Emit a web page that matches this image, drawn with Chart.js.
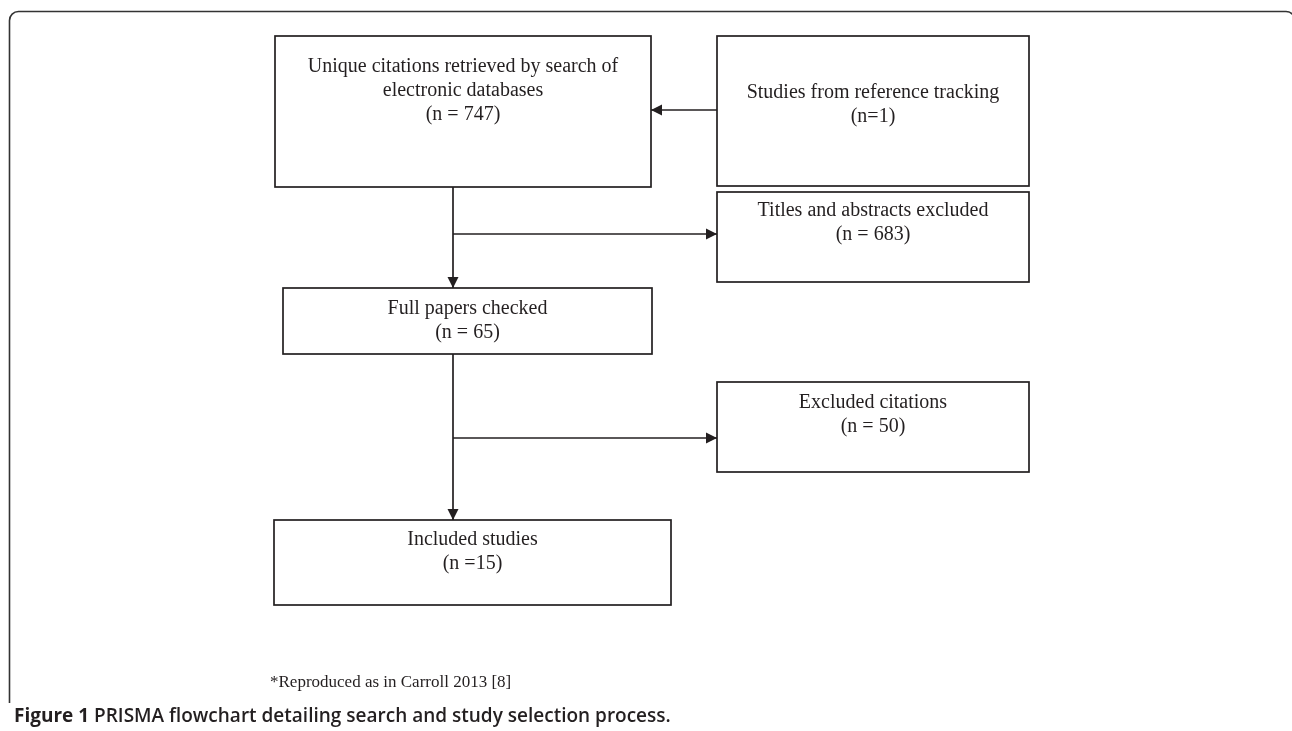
<!DOCTYPE html>
<html>
<head>
<meta charset="utf-8">
<script src="https://cdn.jsdelivr.net/npm/chart.js@4.4.1/dist/chart.umd.min.js"></script>
<style>
  html, body { margin: 0; padding: 0; background: #fff; }
  #wrap { width: 1292px; height: 731px; }
</style>
</head>
<body>
<div id="wrap"><canvas id="flow" width="1292" height="731"></canvas></div>
<script>
// PRISMA stages (text + counts)
const stageNames = [
  ["Unique citations retrieved by search of", "electronic databases"],
  ["Studies from reference tracking"],
  ["Titles and abstracts excluded"],
  ["Full papers checked"],
  ["Excluded citations"],
  ["Included studies"]
];
const countLabels = ["(n = 747)", "(n=1)", "(n = 683)", "(n = 65)", "(n = 50)", "(n =15)"];
const footnote = "*Reproduced as in Carroll 2013 [8]";
const captionBold = "Figure 1";
const captionRest = " PRISMA flowchart detailing search and study selection process.";

// layout, in axis units (axes run 0..1292 / 0..731)
const boxLeft   = [275, 717, 717, 283, 717, 274];
const boxRight  = [651, 1029, 1029, 652, 1029, 671];
const boxTop    = [36, 36, 192, 288, 382, 520];
const boxBottom = [187, 186, 282, 354, 472, 605];
const firstLine = [67, 93, 211, 309, 403, 540];
const lineGap = 24;

// connectors: [x0, y0, x1, y1]; every one ends in an arrowhead
const links = [
  [717, 110, 651, 110],
  [453, 187, 453, 288],
  [453, 234, 717, 234],
  [453, 354, 453, 520],
  [453, 438, 717, 438]
];

const ink = "#231f20";

const flowPlugin = {
  id: "flow",
  afterDraw(chart) {
    const ctx = chart.ctx;
    const x = chart.scales.x, y = chart.scales.y;
    const px = v => x.getPixelForValue(v);
    const py = v => y.getPixelForValue(v);

    ctx.save();
    ctx.strokeStyle = "#333";
    ctx.lineWidth = 1.6;

    // outer frame: right side runs off the page, left side stops above caption
    const fl = px(9.5), ft = py(11.5), fr = px(1295), r = 9;
    ctx.beginPath();
    ctx.moveTo(fl, py(703));
    ctx.lineTo(fl, ft + r);
    ctx.arcTo(fl, ft, fl + r, ft, r);
    ctx.lineTo(fr - r, ft);
    ctx.arcTo(fr, ft, fr, ft + r, r);
    ctx.lineTo(fr, py(703));
    ctx.stroke();

    // boxes + text
    ctx.strokeStyle = ink;
    ctx.lineWidth = 1.7;
    ctx.fillStyle = ink;
    ctx.font = '20px "Liberation Serif", "Times New Roman", serif';
    ctx.textAlign = "center";
    ctx.textBaseline = "middle";
    stageNames.forEach((lines, i) => {
      const l = px(boxLeft[i]), t = py(boxTop[i]);
      ctx.strokeRect(l, t, px(boxRight[i]) - l, py(boxBottom[i]) - t);
      const cx = px((boxLeft[i] + boxRight[i]) / 2);
      lines.concat([countLabels[i]]).forEach((s, k) => {
        ctx.fillText(s, cx, py(firstLine[i] + k * lineGap));
      });
    });

    // connectors with filled arrowheads
    links.forEach(([x0, y0, x1, y1]) => {
      const a = px(x0), b = py(y0), c = px(x1), d = py(y1);
      ctx.beginPath();
      ctx.moveTo(a, b);
      ctx.lineTo(c, d);
      ctx.stroke();
      const ang = Math.atan2(d - b, c - a);
      const len = 11, hw = 5.5;
      ctx.beginPath();
      ctx.moveTo(c, d);
      ctx.lineTo(c - len * Math.cos(ang) - hw * Math.sin(ang), d - len * Math.sin(ang) + hw * Math.cos(ang));
      ctx.lineTo(c - len * Math.cos(ang) + hw * Math.sin(ang), d - len * Math.sin(ang) - hw * Math.cos(ang));
      ctx.closePath();
      ctx.fill();
    });

    // footnote
    ctx.textAlign = "left";
    ctx.font = '17px "Liberation Serif", "Times New Roman", serif';
    ctx.fillText(footnote, px(270), py(683));

    // caption
    ctx.textBaseline = "alphabetic";
    ctx.font = 'bold 19px "Open Sans", sans-serif';
    ctx.fillText(captionBold, px(14), py(722));
    const w = ctx.measureText(captionBold).width;
    ctx.font = '600 19px "Open Sans", sans-serif';
    ctx.fillText(captionRest, px(14) + w, py(722));
    ctx.restore();
  }
};

new Chart(document.getElementById("flow"), {
  type: "scatter",
  data: { datasets: [{ data: [] }] },
  options: {
    responsive: false,
    animation: false,
    layout: { padding: 0 },
    scales: {
      x: { type: "linear", min: 0, max: 1292, display: false },
      y: { type: "linear", min: 0, max: 731, reverse: true, display: false }
    },
    plugins: { legend: { display: false }, tooltip: { enabled: false } }
  },
  plugins: [flowPlugin]
});
</script>
</body>
</html>
